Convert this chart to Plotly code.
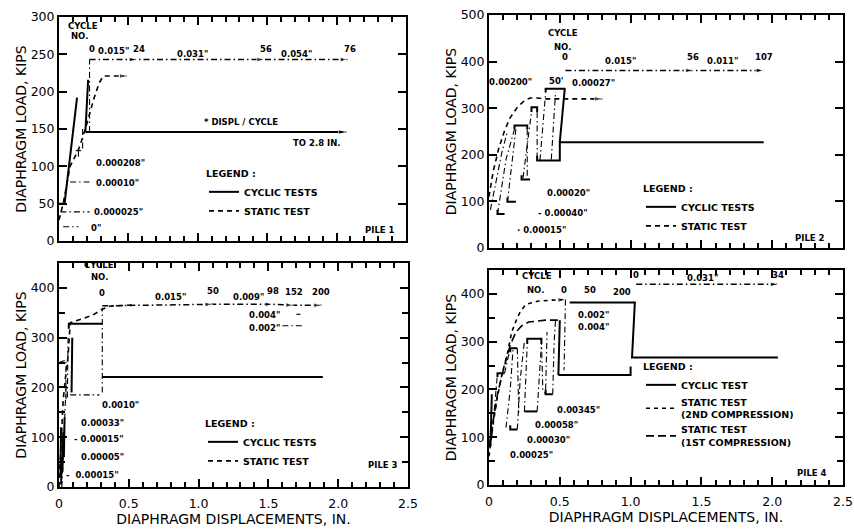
import plotly.graph_objects as go

# ---------------------------------------------------------------- data
# Pile 1
P1_CYCLIC_X = [0.00, 0.04, 0.13, None, 0.19, 0.21, None, 0.19, 2.07]
P1_CYCLIC_Y = [50, 50, 192, None, 146, 216, None, 146, 146]
P1_STATIC_X = [0.00, 0.03, 0.08, 0.14, 0.19, 0.25, 0.29, 0.32, 0.49]
P1_STATIC_Y = [28, 50, 100, 122, 150, 190, 212, 221, 221]
P1_RATE_X = [0.22, 0.22, None, 0.08, 0.22, None, 0.01, 0.22, None, 0.03, 0.14,
             None, 0.12, 0.16, None, 0.14, 0.14, None, 0.17, 0.17]
P1_RATE_Y = [146, 243, None, 79, 79, None, 39, 39, None, 19, 19,
             None, 121, 121, None, 121, 110, None, 150, 122]
P1_CYCLE_X = [0.22, 0.56, 1.48, 2.08]
P1_CYCLE_Y = [243, 243, 243, 243]
P1_CYCLE_NO = ["0", "24", "56", "76"]

# Pile 2
P2_CYCLIC_X = [0.34, 0.34, 0.50, 0.50, 1.94, None, 0.50, 0.535, None, 0.40, 0.40, 0.54,
               None, 0.18, 0.18, 0.27, 0.27, None, 0.30, 0.30, 0.34, 0.34,
               None, 0.23, 0.23, 0.29, None, 0.06, 0.06, 0.11, None, 0.13, 0.13, 0.19]
P2_CYCLIC_Y = [198, 188, 188, 227, 227, None, 227, 342, None, 334, 342, 342,
               None, 255, 263, 263, 255, None, 292, 302, 302, 292,
               None, 156, 147, 147, None, 82, 73, 73, None, 108, 99, 99]
P2_STATIC_X = [0.00, 0.03, 0.07, 0.11, 0.15, 0.20, 0.25, 0.29, 0.34, 0.39, 0.80]
P2_STATIC_Y = [110, 165, 215, 252, 280, 302, 316, 322, 322, 320, 320]
P2_RATE_X = [0.01, 0.09, 0.13, None, 0.06, 0.12, 0.18, None, 0.13, 0.15, 0.19, None,
             0.27, 0.27, None, 0.24, 0.27, 0.30, None, 0.34, 0.34, None,
             0.36, 0.38, 0.40, None, 0.44, 0.47]
P2_RATE_Y = [82, 204, 250, None, 73, 190, 255, None, 99, 150, 255, None,
             255, 147, None, 150, 220, 292, None, 292, 188, None,
             188, 260, 334, None, 190, 335]
P2_CYCLE_X = [0.54, 1.44, 1.94]
P2_CYCLE_Y = [381, 381, 381]
P2_CYCLE_NO = ["0", "56", "107"]

# Pile 3
P3_CYCLIC_X = [0.07, 0.07, 0.31, None, 0.09, 0.095, None, 0.31, 1.89, None,
               0.010, 0.015, None, 0.025, 0.030, None, 0.015, 0.020, None, 0.035, 0.04]
P3_CYCLIC_Y = [318, 328, 328, None, 190, 300, None, 221, 221, None,
               20, 120, None, 30, 110, None, 5, 60, None, 60, 140]
P3_STATIC_X = [0.00, 0.01, 0.02, 0.03, 0.05, 0.065, 0.08, 0.15, 0.24, 0.31, 0.36, 0.55]
P3_STATIC_Y = [0, 60, 120, 175, 230, 262, 330, 336, 345, 357, 363, 366]
P3_RATE_X = [0.31, 0.31, None, 0.08, 0.29, None, 0.00, 0.05, 0.05, None, 0.06, 0.065,
             None, 1.60, 1.76, None, 1.70, 1.73, None, 0.02, 0.04, 0.05]
P3_RATE_Y = [190, 360, None, 185, 185, None, 250, 255, 170, None, 180, 300,
             None, 324, 324, None, 347, 347, None, 0, 120, 200]
P3_CYCLE_X = [0.31, 1.10, 1.53, 1.68, 1.88]
P3_CYCLE_Y = [364, 367, 367, 365, 365]
P3_CYCLE_NO = ["0", "50", "98", "152", "200"]

# Pile 4
P4_CYCLIC_X = [0.49, 1.00, 1.00, None, 0.49, 0.50, None, 0.57, 1.03, 1.01, 2.04,
               None, 0.27, 0.27, 0.37, 0.37, None, 0.40, 0.40, 0.45, None, 0.25, 0.34,
               None, 0.15, 0.15, 0.20, None, 0.06, 0.06, 0.11, None, 0.15, 0.15, 0.20,
               None, 0.01, 0.02]
P4_CYCLIC_Y = [230, 230, 248, None, 230, 345, None, 382, 382, 267, 267,
               None, 295, 306, 306, 295, None, 200, 190, 190, None, 154, 154,
               None, 125, 116, 116, None, 226, 234, 234, None, 278, 286, 286,
               None, 80, 190]
P4_STATIC2_X = [0.00, 0.03, 0.06, 0.09, 0.13, 0.16, 0.20, 0.22, 0.26, 0.35, 0.45, 0.54]
P4_STATIC2_Y = [60, 130, 185, 230, 275, 320, 350, 362, 378, 385, 387, 388]
P4_STATIC1_X = [0.00, 0.03, 0.06, 0.10, 0.15, 0.19, 0.23, 0.28, 0.40, 0.50]
P4_STATIC1_Y = [80, 140, 190, 240, 293, 320, 333, 341, 345, 345]
P4_RATE_X = [0.02, 0.06, None, 0.11, 0.15, None, 0.12, 0.15, 0.17, None, 0.20, 0.22, 0.25,
             None, 0.20, 0.21, None, 0.25, 0.27, None, 0.34, 0.36, 0.37, None,
             0.37, 0.38, 0.40, None, 0.40, 0.41, None, 0.45, 0.46, 0.47, None, 0.54, 0.53]
P4_RATE_Y = [100, 234, None, 234, 286, None, 120, 200, 286, None, 116, 220, 300,
             None, 286, 150, None, 154, 295, None, 154, 250, 295, None,
             306, 200, 190, None, 200, 320, None, 190, 300, 345, None, 388, 240]
P4_CYCLE_X = [1.04, 2.04]
P4_CYCLE_Y = [420, 420]
P4_CYCLE_NO = ["0", "34"]

X_TICKS = [0, 0.5, 1.0, 1.5, 2.0, 2.5]
X_TICK_TEXT = ["0", "0.5", "1.0", "1.5", "2.0", "2.5"]

# text labels (text, x, y) in data units of each panel
P1_TEXT = [("CYCLE", 0.17, 288), ("NO.", 0.15, 274), ('0.015"', 0.39, 254),
           ('0.031"', 0.96, 251), ('0.054"', 1.71, 251), ("* DISPL / CYCLE", 1.31, 159),
           ("TO 2.8 IN.", 1.86, 131), ('0.000208"', 0.44, 104), ('0.00010"', 0.42, 78),
           ('0.000025"', 0.43, 39), ('0"', 0.27, 17), ("PILE 1", 2.31, 15)]
P2_TEXT = [("CYCLE", 0.52, 461), ("NO.", 0.52, 431), ('0.015"', 0.93, 402),
           ('0.011"', 1.65, 402), ('0.00200"', 0.155, 356), ("50'", 0.47, 358),
           ('0.00027"', 0.74, 354), ('0.00020"', 0.56, 118), ('- 0.00040"', 0.52, 75),
           ('· 0.00015"', 0.37, 39), ("PILE 2", 2.27, 21)]
P3_TEXT = [("CYCLE", 0.29, 446), ("NO.", 0.29, 422), ('0.015"', 0.80, 381),
           ('0.009"', 1.36, 381), ('0.004"', 1.47, 345), ('0.002"', 1.47, 319),
           ('0.0010"', 0.44, 165), ('0.00033"', 0.31, 128), ('- 0.00015"', 0.29, 96),
           ('0.00005"', 0.31, 60), ('-  0.00015"', 0.24, 24), ("PILE 3", 2.32, 44)]
P4_TEXT = [("CYCLE", 0.34, 437), ("NO.", 0.33, 408), ("0", 0.53, 408), ("50", 0.71, 408),
           ("200", 0.94, 404), ('0.031"', 1.51, 433), ('0.002"', 0.74, 356),
           ('0.004"', 0.74, 330), ('0.00345"', 0.63, 157), ('0.00058"', 0.48, 126),
           ('0.00030"', 0.42, 94), ('0.00025"', 0.30, 63), ("PILE 4", 2.28, 25)]

Y_TITLE = "DIAPHRAGM LOAD, KIPS"
X_TITLE = "DIAPHRAGM DISPLACEMENTS, IN."

# ---------------------------------------------------------------- figure
FONT = "DejaVu Sans"
W, H = 854, 529
fig = go.Figure()


def line(ax, x, y, width, dash, name="", legend=None, show=False):
    fig.add_trace(go.Scatter(
        x=x, y=y, mode="lines", xaxis="x" + ax, yaxis="y" + ax,
        line=dict(color="black", width=width, dash=dash),
        name=name, legend=legend, showlegend=show, hoverinfo="skip"))


def arrows(ax, x, y):
    sizes = [0] + [8] * (len(x) - 1)
    fig.add_trace(go.Scatter(
        x=x, y=y, mode="markers", xaxis="x" + ax, yaxis="y" + ax,
        marker=dict(symbol="arrow", angleref="previous", size=sizes, color="black"),
        showlegend=False, hoverinfo="skip"))


annotations = []
ANN_FONT = dict(family=FONT, size=8.5, color="black", weight="bold")


def texts(ax, items):
    for t, x, y in items:
        annotations.append(dict(text=t, x=x, y=y, xref="x" + ax, yref="y" + ax,
                                showarrow=False, font=ANN_FONT))


def cycle_labels(ax, xs, ys, nos, shift, xshift=0):
    for x, y, n in zip(xs, ys, nos):
        annotations.append(dict(text=n, x=x, y=y, xref="x" + ax, yref="y" + ax,
                                showarrow=False, yshift=shift, xshift=xshift,
                                font=ANN_FONT))


CYC_W, STAT_W, RATE_W = 2.0, 1.6, 1.1
DASHDOT = "6px,3px,1.5px,3px"

# Pile 1
line("", P1_CYCLIC_X, P1_CYCLIC_Y, CYC_W, "solid", "CYCLIC TESTS", "legend", True)
line("", P1_STATIC_X, P1_STATIC_Y, STAT_W, "5px,4px", "STATIC TEST", "legend", True)
arrows("", P1_STATIC_X[-2:], P1_STATIC_Y[-2:])
arrows("", P1_CYCLIC_X[-2:], P1_CYCLIC_Y[-2:])
line("", P1_RATE_X, P1_RATE_Y, RATE_W, DASHDOT)
line("", P1_CYCLE_X, P1_CYCLE_Y, 1.5, DASHDOT)
arrows("", P1_CYCLE_X, P1_CYCLE_Y)
cycle_labels("", P1_CYCLE_X, P1_CYCLE_Y, P1_CYCLE_NO, 11, 2)
texts("", P1_TEXT)

# Pile 2
line("2", P2_CYCLIC_X, P2_CYCLIC_Y, CYC_W, "solid", "CYCLIC TESTS", "legend2", True)
line("2", P2_STATIC_X, P2_STATIC_Y, STAT_W, "5px,4px", "STATIC TEST", "legend2", True)
arrows("2", P2_STATIC_X[-2:], P2_STATIC_Y[-2:])
line("2", P2_RATE_X, P2_RATE_Y, RATE_W, DASHDOT)
line("2", P2_CYCLE_X, P2_CYCLE_Y, 1.5, DASHDOT)
arrows("2", P2_CYCLE_X, P2_CYCLE_Y)
cycle_labels("2", P2_CYCLE_X, P2_CYCLE_Y, P2_CYCLE_NO, 13)
texts("2", P2_TEXT)

# Pile 3
line("3", P3_CYCLIC_X, P3_CYCLIC_Y, CYC_W, "solid", "CYCLIC TESTS", "legend3", True)
line("3", P3_STATIC_X, P3_STATIC_Y, STAT_W, "5px,4px", "STATIC TEST", "legend3", True)
line("3", P3_RATE_X, P3_RATE_Y, RATE_W, DASHDOT)
line("3", P3_CYCLE_X, P3_CYCLE_Y, 1.5, DASHDOT)
arrows("3", P3_CYCLE_X, P3_CYCLE_Y)
cycle_labels("3", P3_CYCLE_X, P3_CYCLE_Y, P3_CYCLE_NO, 13)
texts("3", P3_TEXT)

# Pile 4
line("4", P4_CYCLIC_X, P4_CYCLIC_Y, CYC_W, "solid", "CYCLIC TEST", "legend4", True)
line("4", P4_STATIC2_X, P4_STATIC2_Y, STAT_W, "4px,4px",
     "STATIC TEST<br>(2ND COMPRESSION)", "legend4", True)
line("4", P4_STATIC1_X, P4_STATIC1_Y, STAT_W, "8px,4px",
     "STATIC TEST<br>(1ST COMPRESSION)", "legend4", True)
arrows("4", P4_STATIC2_X[-2:], P4_STATIC2_Y[-2:])
line("4", P4_RATE_X, P4_RATE_Y, RATE_W, DASHDOT)
line("4", P4_CYCLE_X, P4_CYCLE_Y, 1.5, DASHDOT)
arrows("4", P4_CYCLE_X, P4_CYCLE_Y)
cycle_labels("4", P4_CYCLE_X, P4_CYCLE_Y, P4_CYCLE_NO, 9)
texts("4", P4_TEXT)


def px_x(p):
    return p / W


def px_y(p):
    return 1 - p / H


TICKFONT = dict(family=FONT, size=12.5, color="black")
TITLEFONT = dict(family=FONT, size=14, color="black")


def xaxis(dom, anchor, labels):
    return dict(domain=[px_x(dom[0]), px_x(dom[1])], anchor=anchor, range=[0, 2.5],
                tickmode="array", tickvals=X_TICKS, ticktext=X_TICK_TEXT,
                showticklabels=labels, ticks="inside", ticklen=8, tickwidth=2,
                tickcolor="black", showline=True, linewidth=2, linecolor="black",
                mirror="ticks", showgrid=False, zeroline=False, tickfont=TICKFONT,
                ticklabelstandoff=4, automargin=False,
                minor=dict(dtick=0.1, ticks="inside", ticklen=5, tickwidth=1.5,
                           tickcolor="black", showgrid=False),
                title=dict(text=X_TITLE if labels else "", font=TITLEFONT, standoff=2))


def yaxis(dom, anchor, top, dtick, minor):
    d = dict(domain=[px_y(dom[1]), px_y(dom[0])], anchor=anchor, range=[0, top],
             tickmode="linear", tick0=0, dtick=dtick, ticks="inside", ticklen=8,
             tickwidth=2, tickcolor="black", automargin=False,
             showline=True, linewidth=2, linecolor="black", mirror="ticks",
             showgrid=False, zeroline=False, tickfont=TICKFONT,
             title=dict(text=Y_TITLE, font=TITLEFONT, standoff=1))
    if minor:
        d["minor"] = dict(dtick=minor, ticks="inside", ticklen=6, tickwidth=1.5,
                          tickcolor="black", showgrid=False)
    return d


def legend(x, ytop):
    return dict(x=px_x(x), y=px_y(ytop), xanchor="left", yanchor="top",
                bgcolor="rgba(0,0,0,0)", borderwidth=0, itemwidth=30,
                font=dict(family=FONT, size=9.5, color="black", weight="bold"),
                title=dict(text="LEGEND :", font=dict(family=FONT, size=9.5,
                                                      color="black", weight="bold")),
                tracegroupgap=0)


fig.update_layout(
    template="none",
    width=W, height=H, margin=dict(l=0, r=0, t=0, b=0, autoexpand=False),
    paper_bgcolor="white", plot_bgcolor="white",
    xaxis=xaxis((59, 406), "y", False),
    yaxis=yaxis((17, 241), "x", 300, 50, None),
    xaxis2=xaxis((489, 843), "y2", False),
    yaxis2=yaxis((15, 248), "x2", 500, 100, None),
    xaxis3=xaxis((59, 408), "y3", True),
    yaxis3=yaxis((263, 487), "x3", 450, 100, 50),
    xaxis4=xaxis((489, 843), "y4", True),
    yaxis4=yaxis((270, 485), "x4", 450, 100, 50),
    legend=legend(204, 165),
    legend2=legend(641, 180),
    legend3=legend(203, 415),
    legend4=legend(641, 358),
    annotations=annotations,
    showlegend=True,
)

fig.write_html("out.html")
